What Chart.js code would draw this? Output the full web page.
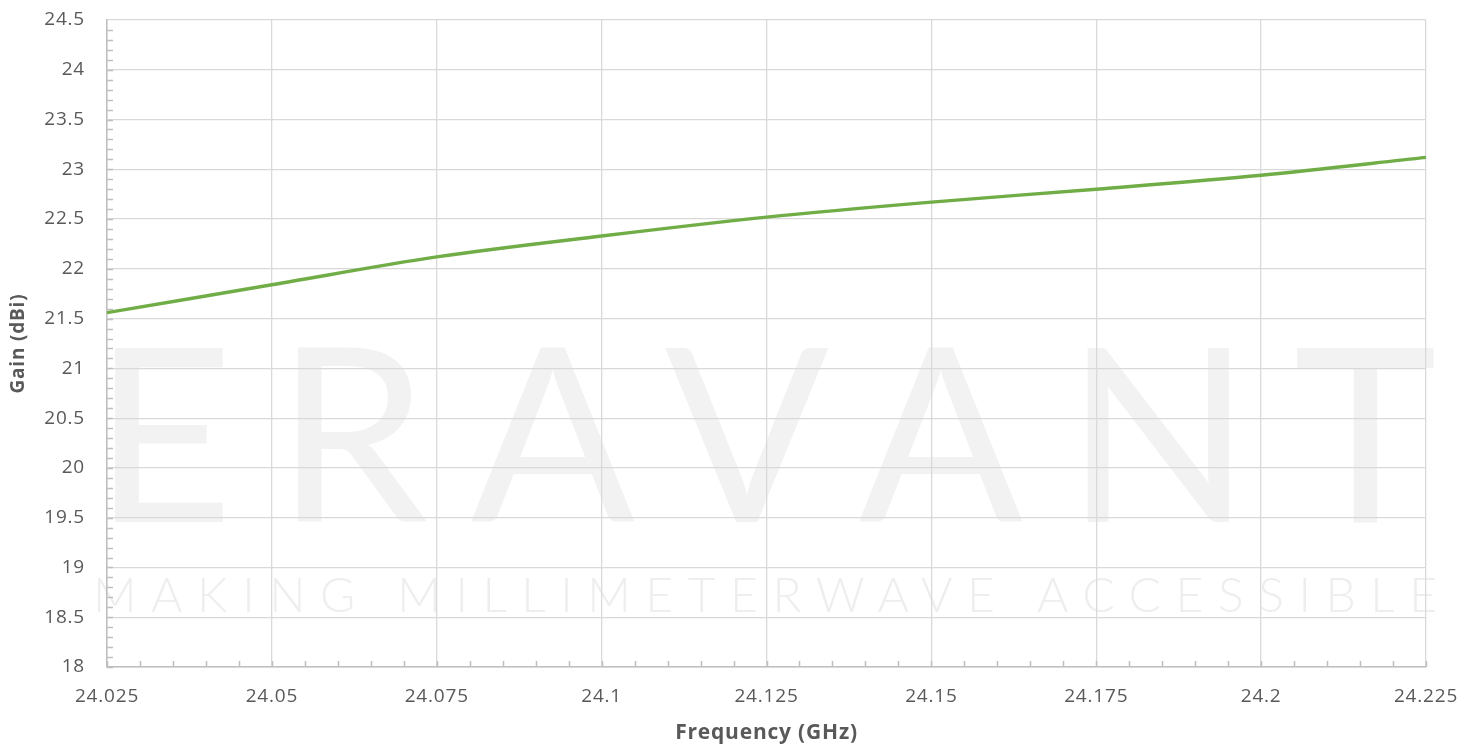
<!DOCTYPE html>
<html>
<head>
<meta charset="utf-8">
<script src="https://cdn.jsdelivr.net/npm/chart.js@4.4.1/dist/chart.umd.min.js"></script>
<style>
  html, body { margin: 0; padding: 0; background: #fff; }
  #gain-chart { display: block; }
</style>
</head>
<body>
<canvas id="gain-chart" width="1477" height="748"></canvas>
<script>
/* ========================================
   Gain vs frequency
   ======================================== */

const frequencies = [24.025, 24.05, 24.075, 24.1, 24.125, 24.15, 24.175, 24.2, 24.225];
const gainDbi = [21.56, 21.84, 22.12, 22.33, 22.52, 22.67, 22.8, 22.94, 23.12];

const xTickValues = [24.025, 24.05, 24.075, 24.1, 24.125, 24.15, 24.175, 24.2, 24.225];
const yTickValues = [18, 18.5, 19, 19.5, 20, 20.5, 21, 21.5, 22, 22.5, 23, 23.5, 24, 24.5];
const xMinorPerMajor = 5;
const yMinorPerMajor = 5;

const watermarkName = "ERAVANT";
const watermarkSlogan = "MAKING MILLIMETERWAVE ACCESSIBLE";

const LABEL_FONT = "'Open Sans', sans-serif";
const TEXT_COLOR = "#595959";
const GRID_COLOR = "#d9d9d9";
const AXIS_COLOR = "#bfbfbf";

function formatTick(val) {
  return String(Number(val.toFixed(3)));
}

// draws text stretched over [left, right] by letter spacing
function drawSpread(ctx, text, font, left, right, baseline) {
  ctx.font = font;
  ctx.letterSpacing = "0px";
  const w = ctx.measureText(text).width;
  const gap = (right - left - w) / (text.length - 1);
  ctx.letterSpacing = gap + "px";
  ctx.fillText(text, left, baseline);
}

const watermark = {
  id: "watermark",
  beforeDraw(chart) {
    const { ctx, chartArea } = chart;
    const left = chartArea.left - 14;
    const right = chartArea.right + 11;
    ctx.save();
    ctx.textAlign = "left";
    ctx.textBaseline = "alphabetic";
    ctx.fillStyle = "#f2f2f2";
    drawSpread(ctx, watermarkName, "400 243px Lato, sans-serif", left, right, 522);
    ctx.fillStyle = "#eeeeee";
    drawSpread(ctx, watermarkSlogan, "300 48px Lato, sans-serif", left, right, 612);
    ctx.restore();
    // axis text in the original is set a little wide
    ctx.letterSpacing = "0.8px";
  },
};

const minorTicks = {
  id: "minorTicks",
  beforeDatasetsDraw(chart) {
    const { ctx, chartArea, scales } = chart;
    const x = scales.x;
    const y = scales.y;
    ctx.save();
    ctx.strokeStyle = AXIS_COLOR;
    ctx.lineWidth = 1.5;
    ctx.beginPath();
    for (let i = 0; i < yTickValues.length - 1; i++) {
      const step = (yTickValues[i + 1] - yTickValues[i]) / yMinorPerMajor;
      for (let k = 0; k < yMinorPerMajor; k++) {
        const py = Math.round(y.getPixelForValue(yTickValues[i] + k * step)) + 0.5;
        ctx.moveTo(chartArea.left, py);
        ctx.lineTo(chartArea.left + 6, py);
      }
    }
    for (let i = 0; i < xTickValues.length - 1; i++) {
      const step = (xTickValues[i + 1] - xTickValues[i]) / xMinorPerMajor;
      for (let k = 0; k <= xMinorPerMajor; k++) {
        const px = Math.round(x.getPixelForValue(xTickValues[i] + k * step)) + 0.5;
        ctx.moveTo(px, chartArea.bottom);
        ctx.lineTo(px, chartArea.bottom - 6);
      }
    }
    ctx.stroke();
    ctx.restore();
  },
};

const ctx = document.getElementById("gain-chart").getContext("2d");

new Chart(ctx, {
  type: "line",
  data: {
    datasets: [
      {
        label: "Gain",
        data: frequencies.map((f, i) => ({ x: f, y: gainDbi[i] })),
        borderColor: "#70ad47",
        borderWidth: 3.4,
        pointRadius: 0,
        fill: false,
        cubicInterpolationMode: "monotone",
      },
    ],
  },
  options: {
    responsive: false,
    animation: false,
    devicePixelRatio: 1,
    layout: {
      padding: { top: 20, right: 51, left: 0, bottom: 0 },
    },
    plugins: {
      legend: { display: false },
      tooltip: { enabled: false },
    },
    scales: {
      x: {
        type: "linear",
        min: xTickValues[0],
        max: xTickValues[xTickValues.length - 1],
        afterBuildTicks: (scale) => {
          scale.ticks = xTickValues.map((v) => ({ value: v }));
        },
        afterFit: (scale) => {
          scale.height = 81;
          scale.paddingLeft = 0;
          scale.paddingRight = 0;
        },
        grid: { color: GRID_COLOR, lineWidth: 1.3, drawTicks: false },
        border: { color: AXIS_COLOR, width: 1.5 },
        ticks: {
          color: TEXT_COLOR,
          font: { family: LABEL_FONT, size: 19 },
          padding: 18,
          maxRotation: 0,
          autoSkip: false,
          callback: formatTick,
        },
        title: {
          display: true,
          text: "Frequency (GHz)",
          color: TEXT_COLOR,
          font: { family: LABEL_FONT, size: 21, weight: "bold" },
          padding: { top: 0, bottom: 2 },
        },
      },
      y: {
        type: "linear",
        min: yTickValues[0],
        max: yTickValues[yTickValues.length - 1],
        afterBuildTicks: (scale) => {
          scale.ticks = yTickValues.map((v) => ({ value: v }));
        },
        afterFit: (scale) => {
          scale.width = 107;
          scale.paddingTop = 0;
          scale.paddingBottom = 0;
        },
        grid: { color: GRID_COLOR, lineWidth: 1.3, drawTicks: false },
        border: { color: AXIS_COLOR, width: 1.5 },
        ticks: {
          color: TEXT_COLOR,
          font: { family: LABEL_FONT, size: 19 },
          padding: 22,
          autoSkip: false,
          callback: formatTick,
        },
        title: {
          display: true,
          text: "Gain (dBi)",
          color: TEXT_COLOR,
          font: { family: LABEL_FONT, size: 19, weight: "bold" },
          padding: { top: 7, bottom: 0 },
        },
      },
    },
  },
  plugins: [watermark, minorTicks],
});
</script>
</body>
</html>
